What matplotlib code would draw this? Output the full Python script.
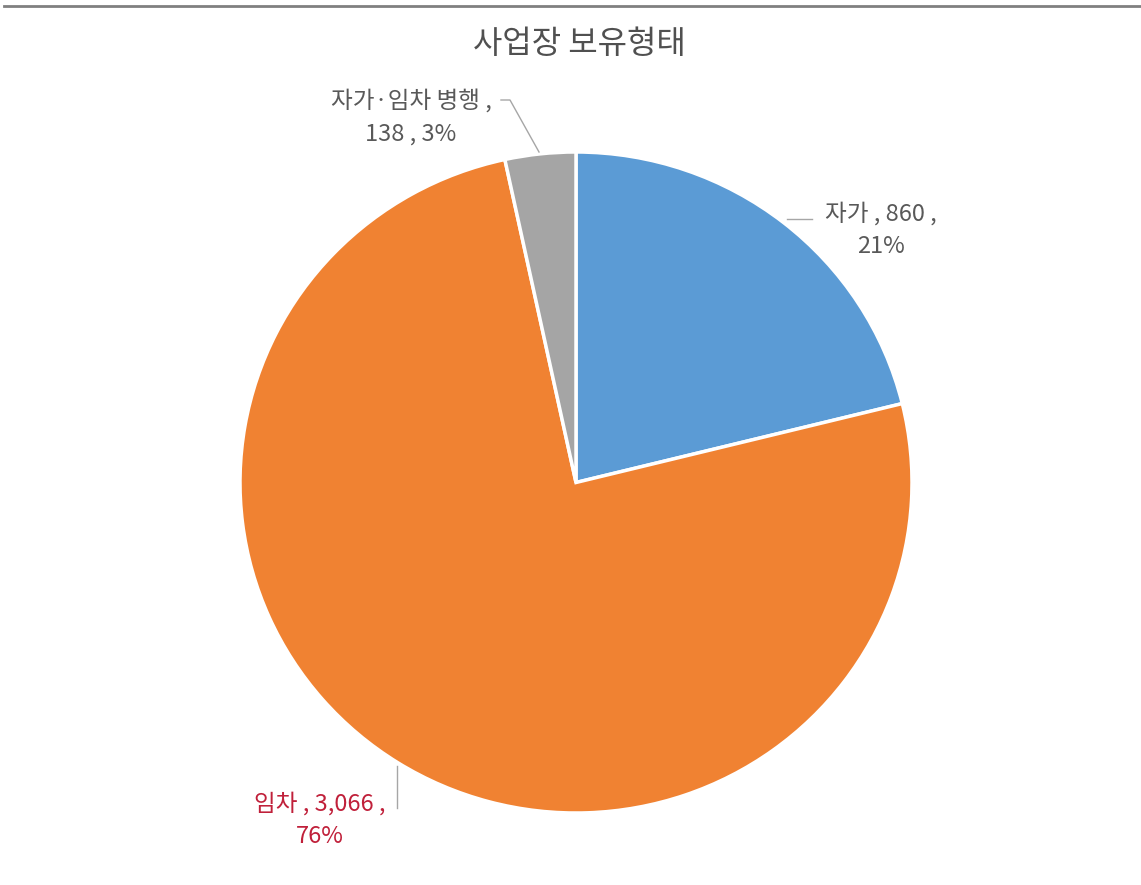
import matplotlib.pyplot as plt
from matplotlib.lines import Line2D

plt.rcParams['font.family'] = ['Noto Sans CJK KR', 'DejaVu Sans']

# data
categories = ["자가", "임차", "자가·임차 병행"]
values = [860, 3066, 138]
percents = ["21%", "76%", "3%"]
colors = ["#5B9BD5", "#F08232", "#A5A5A5"]

W, H = 1141, 885
fig = plt.figure(figsize=(W / 100, H / 100), dpi=100)

# pie axes (slightly squashed vertically, as in the reference)
rx, ry = 336, 330.5
sy = rx / ry
ax_pie = fig.add_axes([0, 0, 1, 1])
ax_pie.pie(values, colors=colors, startangle=90, counterclock=False,
           center=(576, (H - 482.5) * sy), radius=rx, frame=True,
           wedgeprops=dict(edgecolor="white", linewidth=2.5))
ax_pie.set_aspect("auto")
ax_pie.set_xlim(0, W)
ax_pie.set_ylim(0, H * sy)
ax_pie.axis("off")

# overlay in pixel coordinates for text and leader lines
ax = fig.add_axes([0, 0, 1, 1])
ax.set_xlim(0, W)
ax.set_ylim(0, H)
ax.axis("off")
ax.patch.set_alpha(0)

# top rule
ax.add_line(Line2D([4, W], [H - 6, H - 6], color="#808080", lw=2))

ax.text(579, H - 44, "사업장 보유형태", ha="center", va="center",
        fontsize=23, color="#505050", fontweight="medium")

lab_col = "#595959"
line_col = "#A6A6A6"
# 자가
ax.text(881, H - 230, f"{categories[0]} , {values[0]:,} ,\n{percents[0]}",
        ha="center", va="center", fontsize=17, color=lab_col, linespacing=1.55)
ax.add_line(Line2D([787, 812], [H - 219, H - 219], color=line_col, lw=1))

# 자가·임차 병행
ax.text(411, H - 117, f"{categories[2]} ,\n{values[2]} , {percents[2]}",
        ha="center", va="center", fontsize=17, color=lab_col, linespacing=1.55)
ax.add_line(Line2D([501, 510, 539], [H - 100, H - 100, H - 152],
                   color=line_col, lw=1))

# 임차
ax.text(320, H - 820, f"{categories[1]} , {values[1]:,} ,\n{percents[1]}",
        ha="center", va="center", fontsize=17, color="#C0203A", linespacing=1.55)
ax.add_line(Line2D([397, 397], [H - 766, H - 808], color=line_col, lw=1))

fig.savefig("out.png", dpi=100, facecolor="white")
